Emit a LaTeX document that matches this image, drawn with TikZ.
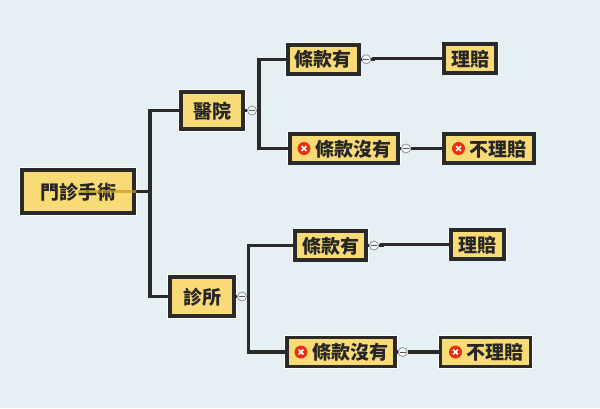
\documentclass[tikz,border=0pt]{standalone}
\usepackage{fontspec}
\setmainfont{Noto Sans CJK TC}
\definecolor{bgcol}{HTML}{E6EFF3}
\definecolor{boxcol}{HTML}{F8DB76}
\definecolor{linecol}{HTML}{2A2A2A}
\definecolor{iconcol}{HTML}{E8300F}
\tikzset{
  box/.style={draw=linecol,fill=boxcol,line width=3.7pt,inner sep=0pt,
    preaction={draw=white,line width=4.6pt},text height=15.2pt,text depth=0pt,
    font=\fontsize{19}{20}\selectfont\bfseries,text=black!85},
  small/.style={minimum height=29pt},
  link/.style={draw=linecol,line width=3.4pt},
  xicon/.style={circle,fill=iconcol,inner sep=0pt,minimum size=13pt,
    path picture={\draw[white,line width=1.5pt]
      ([shift={(-2.4,-2.4)}]path picture bounding box.center) -- ([shift={(2.4,2.4)}]path picture bounding box.center)
      ([shift={(-2.4,2.4)}]path picture bounding box.center) -- ([shift={(2.4,-2.4)}]path picture bounding box.center);}},
  collapse/.style={circle,draw=black!45,fill=bgcol!60!white,line width=.7pt,inner sep=0pt,minimum size=9pt,
    path picture={\draw[black!65,line width=.7pt]
      ([xshift=-3pt]path picture bounding box.center) -- ([xshift=3pt]path picture bounding box.center);}},
}
\newcommand{\gap}{\hspace*{18pt}}
\begin{document}
\begin{tikzpicture}[x=1pt,y=-1pt]
  \fill[bgcol] (0,0) rectangle (600,408);
  \useasboundingbox (0,0) rectangle (600,408);
  % boxes
  \node[box,minimum width=112.5pt,minimum height=43.5pt] (root) at (78,191.5) {門診手術};
  \node[box,minimum width=62.5pt,minimum height=37.5pt] (hosp) at (212,110.5) {醫院};
  \node[box,minimum width=64.5pt,minimum height=39.5pt] (clinic) at (202,296.5) {診所};
  \node[box,small,minimum width=71pt] (yesA) at (323.25,59.25) {條款有};
  \node[box,small,minimum width=52.5pt] (payA) at (470,58.5) {理賠};
  \node[box,small,minimum width=108.5pt] (noA) at (344,148.5) {\gap 條款沒有};
  \node[box,small,minimum width=90pt] (nopayA) at (488.75,148.5) {\gap 不理賠};
  \node[box,small,minimum width=71.5pt] (yesB) at (330.5,245.5) {條款有};
  \node[box,small,minimum width=53.5pt] (payB) at (477.5,244.5) {理賠};
  \node[box,small,minimum width=108.5pt] (noB) at (341,352) {\gap 條款沒有};
  \node[box,small,minimum width=90pt] (nopayB) at (485.5,352) {\gap 不理賠};
  % red icons
  \node[xicon] (iconA) at (304,148.5) {};
  \node[xicon] (iconB) at (458.5,148.5) {};
  \node[xicon] (iconC) at (301,352) {};
  \node[xicon] (iconD) at (455.5,352) {};
  % collapse marks
  \node[collapse] (hospc) at (252,110.5) {};
  \node[collapse] (clinicc) at (242,296.5) {};
  \node[collapse] (yesAc) at (366.3,59.25) {};
  \node[collapse] (noAc) at (406,148.5) {};
  \node[collapse] (yesBc) at (374,245.5) {};
  \node[collapse] (noBc) at (402.7,352) {};
  \coordinate (rootj) at (150,191.5);
  \coordinate (hospj) at (259,110.5);
  \coordinate (clinicj) at (248.7,296.5);
  % connectors
  \draw[link] (root.east) -- (rootj);
  \draw[link] (hosp.west) -| (rootj) |- (clinic.west);
  \draw[link] (hosp.east) -- (hospc);
  \draw[link] (clinic.east) -- (clinicc);
  \draw[link] (hospc) -- (hospj);
  \draw[link] (clinicc) -- (clinicj);
  \draw[link] (yesA.west) -| (hospj) |- (noA.west);
  \draw[link] (yesB.west) -| (clinicj) |- (noB.west);
  \draw[link] (yesA.east) -- (yesAc);
  \draw[link] (yesAc) -- ++(7,0) |- (payA.west);
  \draw[link] (noA.east) -- (noAc);
  \draw[link] (noAc) -- (nopayA.west);
  \draw[link] (yesB.east) -- (yesBc);
  \draw[link] (yesBc) -- ++(8,0) |- (payB.west);
  \draw[link] (noB.east) -- (noBc);
  \draw[link] (noBc) -- (nopayB.west);
  % stripe through the root box
  \draw[draw=black!10!brown!70!yellow,line width=3pt,opacity=.7] (root.center) -- (root.east);
\end{tikzpicture}
\end{document}
